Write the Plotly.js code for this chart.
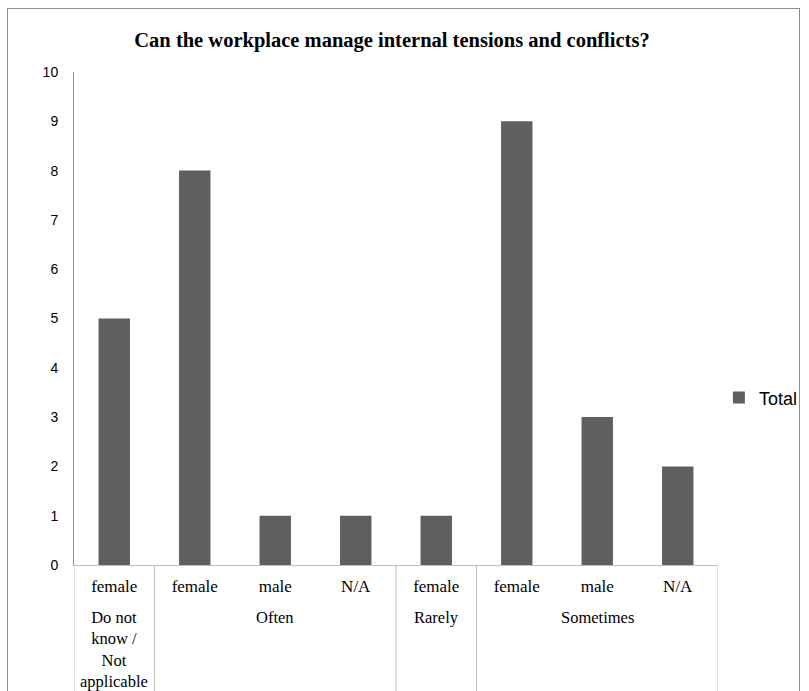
<!DOCTYPE html>
<html><head><meta charset="utf-8">
<script src="https://cdn.plot.ly/plotly-3.0.1.min.js"></script>
<style>
body{margin:0;background:#fff;overflow:hidden;}
#frame{position:absolute;left:7px;top:8px;width:793px;height:700px;border:1px solid #8c8c8c;box-sizing:border-box;}
#chart{position:absolute;left:0;top:0;width:809px;height:691px;}
</style></head>
<body>
<div id="frame"></div>
<div id="chart"></div>
<script>
const groups = ["Do not<br>know /<br>Not<br>applicable","Often","Often","Often","Rarely","Sometimes","Sometimes","Sometimes"];
const genders = ["female","female","male","N/A","female","female","male","N/A"];
const totals = [5, 8, 1, 1, 1, 9, 3, 2];

const idx = genders.map((_, i) => i);

// group spans derived from the groups array
const spans = [];
groups.forEach((g, i) => {
  if (spans.length && spans[spans.length - 1].name === g) spans[spans.length - 1].end = i;
  else spans.push({name: g, start: i, end: i});
});

const plotH = 691 - 72 - 126;
const bottomPaper = -126 / plotH;
const dividerColor = '#bfbfbf';

const shapes = [];
const bounds = [-0.5].concat(spans.map(s => s.end + 0.5));
bounds.forEach(b => shapes.push({
  type: 'line', xref: 'x', yref: 'paper', x0: b, x1: b, y0: 0, y1: bottomPaper,
  line: {color: dividerColor, width: 1}
}));

const annotations = spans.map(s => ({
  xref: 'x', yref: 'paper', x: (s.start + s.end) / 2, y: -(618 - 565) / plotH,
  yanchor: 'top', xanchor: 'center', yshift: 12, text: s.name, showarrow: false, align: 'center',
  font: {family: 'Liberation Serif', size: 16.5, color: '#000'}
}));

const trace = {
  type: 'bar',
  x: idx,
  y: totals,
  name: 'Total',
  marker: {color: '#5f5f5f'},
  showlegend: true,
  hoverinfo: 'y'
};

const layout = {
  width: 809, height: 691,
  margin: {l: 74, r: 91, t: 72, b: 126, autoexpand: false},
  paper_bgcolor: 'rgba(0,0,0,0)',
  plot_bgcolor: 'rgba(0,0,0,0)',
  title: {text: '<b>Can the workplace manage internal tensions and conflicts?</b>',
    font: {family: 'Liberation Serif', size: 20.5, color: '#000'},
    x: (392 - 74) / 644, xref: 'paper', xanchor: 'center',
    y: 1 - 40/691, yref: 'container', yanchor: 'middle'},
  bargap: 0.61,
  xaxis: {
    range: [-0.5, genders.length - 0.5],
    tickmode: 'array', tickvals: idx, ticktext: genders,
    showline: true, linecolor: dividerColor, linewidth: 1,
    ticks: '', ticklabelstandoff: 6,
    tickfont: {family: 'Liberation Serif', size: 17, color: '#000'},
    showgrid: false, zeroline: false, fixedrange: true
  },
  yaxis: {
    range: [0, 10], dtick: 1, showgrid: false, zeroline: false,
    showline: true, linecolor: '#8c8c8c', linewidth: 1,
    ticks: '', ticklabelstandoff: 12,
    tickfont: {family: 'Liberation Sans', size: 14, color: '#000'}
  },
  legend: {x: 1.0014, xanchor: 'left', y: 0.339, yanchor: 'middle',
    font: {family: 'Liberation Sans', size: 18, color: '#000'}},
  shapes: shapes,
  annotations: annotations
};

Plotly.newPlot('chart', [trace], layout, {displayModeBar: false, staticPlot: true});
</script>
</body></html>
